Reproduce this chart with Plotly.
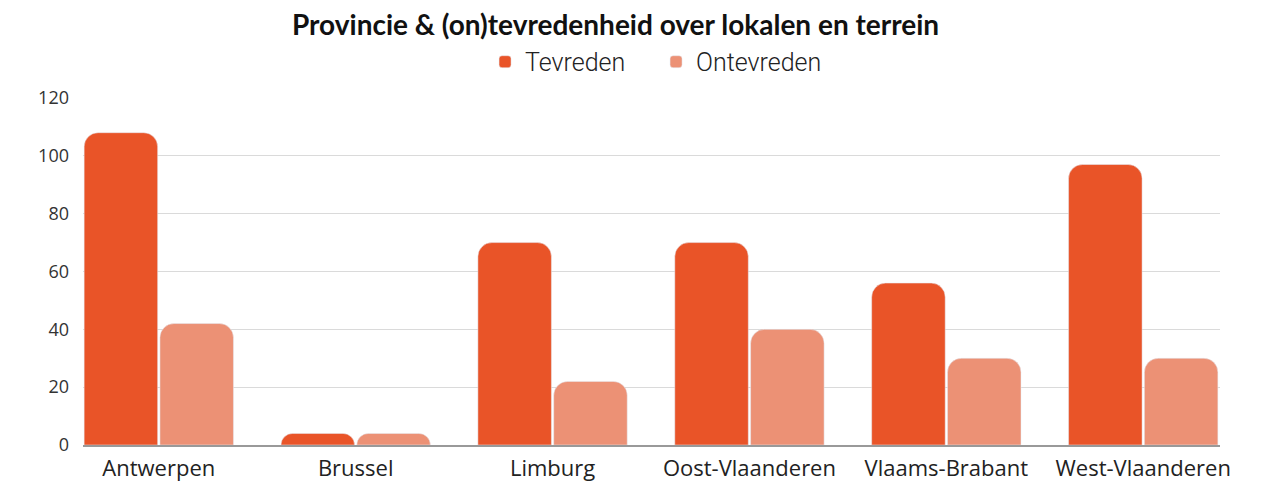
import plotly.graph_objects as go

provincies = ["Antwerpen", "Brussel", "Limburg", "Oost-Vlaanderen", "Vlaams-Brabant", "West-Vlaanderen"]
tevreden = [108, 4, 70, 70, 56, 97]
ontevreden = [42, 4, 22, 40, 30, 30]
y_ticks = [0, 20, 40, 60, 80, 100, 120]

fig = go.Figure()
fig.add_trace(go.Bar(x=provincies, y=tevreden, name="Tevreden", marker_color="#E95428"))
fig.add_trace(go.Bar(x=provincies, y=ontevreden, name="Ontevreden", marker_color="#EC9175"))

fig.update_layout(
    width=1271,
    height=482,
    margin=dict(l=75, r=59, t=90, b=45, autoexpand=False),
    paper_bgcolor="white",
    plot_bgcolor="white",
    barmode="group",
    bargap=0.23,
    bargroupgap=0.03,
    barcornerradius=14,
    title=dict(
        text="<b>Provincie & (on)tevredenheid over lokalen en terrein</b>",
        x=0.478,
        xanchor="center",
        y=0.964,
        yanchor="middle",
        font=dict(family="Lato", size=28, color="#111", weight=900),
    ),
    legend=dict(
        orientation="h",
        x=0.504,
        xanchor="center",
        yref="container",
        y=0.888,
        yanchor="middle",
        font=dict(family="Roboto", size=25, color="#222", weight=300),
        itemwidth=30,
        entrywidth=126,
        tracegroupgap=0,
    ),
    font=dict(family="Open Sans", size=18, color="#333"),
)
fig.update_xaxes(
    range=[-0.385, 5.39],
    automargin=False,
    showline=True,
    linecolor="#999",
    linewidth=1.5,
    ticks="",
    ticklabelstandoff=3,
    tickfont=dict(size=22, color="#222"),
)
fig.update_yaxes(
    range=[0, 120],
    automargin=False,
    tickvals=y_ticks,
    showgrid=True,
    gridcolor="#dadada",
    gridwidth=1,
    zeroline=False,
    ticklabelstandoff=13,
    tickfont=dict(size=18, color="#333"),
)

fig.write_html("out.html")
